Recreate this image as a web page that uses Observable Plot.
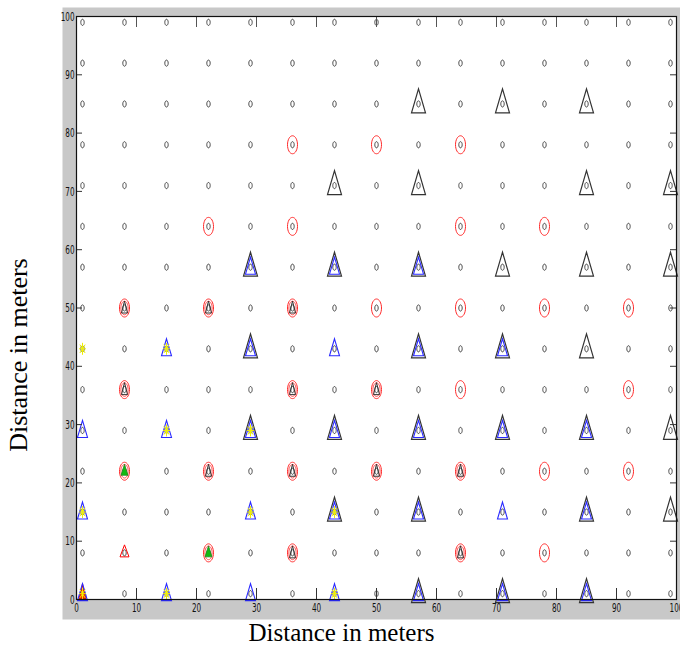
<!DOCTYPE html>
<html><head><meta charset="utf-8">
<script src="https://cdn.jsdelivr.net/npm/d3@7"></script>
<script src="https://cdn.jsdelivr.net/npm/@observablehq/plot@0.6"></script>
<style>body{margin:0;background:#fff}</style>
</head><body><div id="chart"></div>
<script>
// ---- data ----
const gridX = [1, 8, 15, 22, 29, 36, 43, 50, 57, 64, 71, 78, 85, 92, 99];
const gridY = [1, 8, 15, 22, 29, 36, 43, 50, 57, 64, 71, 78, 85, 92, 99];
const xTicks = [0, 10, 20, 30, 40, 50, 60, 70, 80, 90, 100];
const yTicks = [0, 10, 20, 30, 40, 50, 60, 70, 80, 90, 100];

const redRings = [
  [36,78],[50,78],[64,78],
  [22,64],[36,64],[64,64],[78,64],
  [8,50],[22,50],[36,50],[50,50],[64,50],[78,50],[92,50],
  [8,36],[36,36],[50,36],[64,36],[92,36],
  [8,22],[22,22],[36,22],[50,22],[64,22],[78,22],[92,22],
  [22,8],[36,8],[64,8],[78,8]
];
const redInnerRings = [
  [8,50],[22,50],[36,50],
  [8,36],[36,36],[50,36],
  [8,22],[22,22],[36,22],[50,22],[64,22],
  [22,8],[36,8],[64,8]
];
const smallBlackTriangles = [
  [8,50],[22,50],[36,50],
  [8,36],[36,36],[50,36],
  [22,22],[36,22],[50,22],[64,22],
  [36,8],[64,8]
];
const greenTriangles = [[8,22],[22,8]];
const redTriangles = [[8,8]];
const redFilledTriangles = [[1,1]];
const blackTriangles = [
  [57,85],[71,85],[85,85],
  [43,71],[57,71],[85,71],[99,71],
  [29,57],[43,57],[57,57],[71,57],[85,57],[99,57],
  [29,43],[57,43],[71,43],[85,43],
  [29,29],[43,29],[57,29],[71,29],[85,29],[99,29],
  [43,15],[57,15],[85,15],[99,15],
  [57,1],[71,1],[85,1]
];
const blueTriangles = [
  [29,57],[43,57],[57,57],
  [15,43],[29,43],[43,43],[57,43],[71,43],
  [1,29],[15,29],[29,29],[43,29],[57,29],[71,29],[85,29],
  [1,15],[29,15],[43,15],[57,15],[71,15],[85,15],
  [1,1],[15,1],[29,1],[43,1],[57,1],[71,1],[85,1]
];
const yellowStars = [
  [1,43],[15,43],
  [15,29],[29,29],
  [1,15],[29,15],[43,15],
  [1,1],[15,1],[43,1]
];
const xTitle = "Distance in meters";
const yTitle = "Distance in meters";

// ---- custom (horizontally squeezed) marker symbols ----
function ellipseSym(rx, ry) {
  const k = 0.5523;
  return {draw(c) {
    c.moveTo(rx, 0);
    c.bezierCurveTo(rx, k*ry, k*rx, ry, 0, ry);
    c.bezierCurveTo(-k*rx, ry, -rx, k*ry, -rx, 0);
    c.bezierCurveTo(-rx, -k*ry, -k*rx, -ry, 0, -ry);
    c.bezierCurveTo(k*rx, -ry, rx, -k*ry, rx, 0);
    c.closePath();
  }};
}
function triSym(hw, top, bottom) {
  return {draw(c) { c.moveTo(0, -top); c.lineTo(hw, bottom); c.lineTo(-hw, bottom); c.closePath(); }};
}
function starSym(hw, hh) {
  return {draw(c) {
    c.moveTo(0, -hh); c.lineTo(0, hh);
    c.moveTo(-hw, 0); c.lineTo(hw, 0);
    c.moveTo(-hw*0.75, -hh*0.7); c.lineTo(hw*0.75, hh*0.7);
    c.moveTo(hw*0.75, -hh*0.7); c.lineTo(-hw*0.75, hh*0.7);
  }};
}

const W = 680, H = 647, mL = 76, mR = 4, mT = 16, mB = 48;
const frameW = W - mL - mR, frameH = H - mT - mB;
const nodes = d3.cross(gridX, gridY);
const px = d => d[0], py = d => d[1];
const serif = "'Liberation Serif','DejaVu Serif',serif";

const chart = Plot.plot({
  width: W, height: H,
  marginLeft: mL, marginRight: mR, marginTop: mT, marginBottom: mB,
  style: {fontFamily: "'Liberation Sans Narrow','DejaVu Sans Condensed',sans-serif", fontSize: "13px", background: "white"},
  x: {domain: [0, 100]},
  y: {domain: [0, 100]},
  marks: [
    Plot.frame({fill: "#c8c8c8", insetLeft: -14, insetTop: -9, insetRight: -4, insetBottom: -20}),
    Plot.frame({fill: "white"}),
    Plot.dot(nodes, {x: px, y: py, symbol: ellipseSym(1.7, 3.1), stroke: "#3a3a3a", strokeWidth: 0.9}),
    Plot.dot(redRings, {x: px, y: py, symbol: ellipseSym(5, 9), stroke: "#ff2a2a", strokeWidth: 1}),
    Plot.dot(redInnerRings, {x: px, y: py, symbol: ellipseSym(3.6, 6.8), stroke: "#ff5050", strokeWidth: 1}),
    Plot.dot(smallBlackTriangles, {x: px, y: py, symbol: triSym(3, 7, 5), stroke: "#333", strokeWidth: 1}),
    Plot.dot(greenTriangles, {x: px, y: py, symbol: triSym(3.5, 7, 4), fill: "#11bb11", stroke: "#228822", strokeWidth: 0.8}),
    Plot.dot(redTriangles, {x: px, y: py, symbol: triSym(4.5, 8, 4), stroke: "#ff0000", strokeWidth: 1}),
    Plot.dot(redFilledTriangles, {x: px, y: py, symbol: triSym(3.5, 10, 5), fill: "#ff2200", stroke: "#cc0000", strokeWidth: 0.8}),
    Plot.dot(blackTriangles, {x: px, y: py, symbol: triSym(7, 15, 9), stroke: "#333", strokeWidth: 1.2}),
    Plot.dot(blueTriangles, {x: px, y: py, symbol: triSym(5, 10, 7), stroke: "#2a2aff", strokeWidth: 1.1}),
    Plot.dot(yellowStars, {x: px, y: py, symbol: starSym(3.5, 6), stroke: "#f0f000", strokeWidth: 1}),
    // inward ticks (MATLAB style)
    Plot.tickX(xTicks, {x: d => d, insetTop: frameH - 11, stroke: "#333"}),
    Plot.tickX(xTicks, {x: d => d, insetBottom: frameH - 11, stroke: "#555"}),
    Plot.tickY(yTicks, {y: d => d, insetRight: frameW - 6, stroke: "#333"}),
    Plot.tickY(yTicks, {y: d => d, insetLeft: frameW - 6, stroke: "#333"}),
    Plot.frame({stroke: "#111", strokeWidth: 1.2}),
    Plot.axisX({ticks: xTicks, tickSize: 0, tickPadding: 3, label: null, fill: "#111"}),
    Plot.axisY({ticks: yTicks, tickSize: 0, tickPadding: 2, label: null, fill: "#111"}),
    Plot.text([xTitle], {frameAnchor: "bottom", lineAnchor: "middle", textAnchor: "middle", dx: -35, dy: 33, fontSize: 25, fontFamily: serif, fill: "#000"}),
    Plot.text([yTitle], {frameAnchor: "left", textAnchor: "middle", lineAnchor: "middle", rotate: -90, dx: -58, dy: 47, fontSize: 26, fontFamily: serif, fill: "#000"})
  ]
});
chart.querySelectorAll('g[aria-label="x-axis tick label"] text, g[aria-label="y-axis tick label"] text').forEach(t => {
  const tr = t.getAttribute("transform") || "";
  t.setAttribute("transform", tr + " scale(0.62,1)");
});
document.getElementById("chart").appendChild(chart);
</script>
</body></html>
